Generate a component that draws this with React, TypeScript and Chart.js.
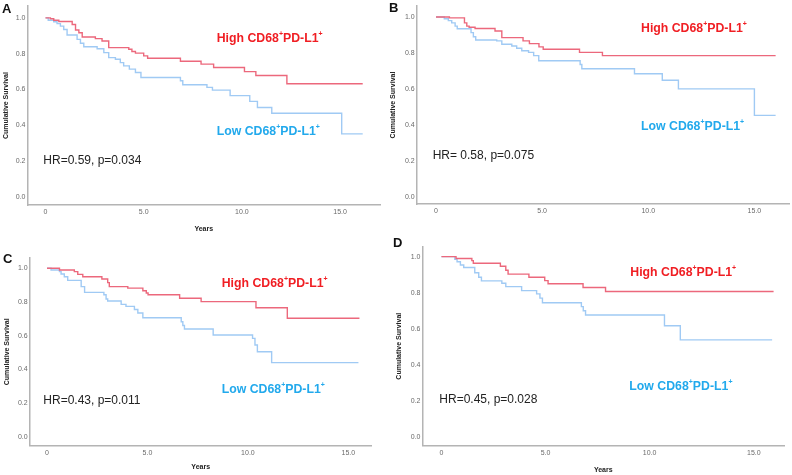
import React, { useEffect, useRef } from "react";
import { Chart, registerables } from "chart.js";
Chart.register(...registerables);

const FONT = '"Liberation Sans", Arial, Helvetica, sans-serif';

// ---- tick labels / texts ----
const xTickValues = [0, 5, 10, 15];
const xTickLabels = ["0", "5.0", "10.0", "15.0"];
const yTickValues = [0, 0.2, 0.4, 0.6, 0.8, 1.0];
const yTickLabels = ["0.0", "0.2", "0.4", "0.6", "0.8", "1.0"];
const xAxisTitle = "Years";
const yAxisTitle = "Cumulative Survival";
const highLabelParts = ["High CD68", "PD-L1"];
const lowLabelParts = ["Low CD68", "PD-L1"];
const supMark = "+";
const panelLetters = ["A", "B", "C", "D"];
const hrLabels = ["HR=0.59, p=0.034", "HR= 0.58, p=0.075", "HR=0.43, p=0.011", "HR=0.45, p=0.028"];

// ---- data (years, cumulative survival) ----
const aHighYears = [0, 0.25, 0.42, 0.68, 1.36, 1.53, 1.7, 1.87, 2.54, 2.88, 3.22, 4.24, 4.4, 4.58, 5.0, 5.2, 6.87, 7.92, 8.56, 10.13, 10.71, 12.29, 16.15];
const aHighSurv = [1.0, 0.995, 0.987, 0.98, 0.963, 0.932, 0.917, 0.893, 0.884, 0.871, 0.834, 0.825, 0.812, 0.803, 0.788, 0.775, 0.758, 0.742, 0.723, 0.7, 0.678, 0.632, 0.632];
const aLowYears = [0, 0.14, 0.42, 0.59, 0.76, 0.93, 1.1, 1.61, 1.78, 1.95, 2.63, 2.97, 3.22, 3.56, 3.81, 3.98, 4.27, 4.58, 4.86, 6.87, 6.99, 8.22, 8.5, 9.4, 10.4, 10.79, 11.52, 15.08, 16.15];
const aLowSurv = [1.0, 0.987, 0.978, 0.968, 0.954, 0.935, 0.904, 0.88, 0.858, 0.839, 0.828, 0.806, 0.778, 0.769, 0.75, 0.732, 0.714, 0.695, 0.667, 0.649, 0.627, 0.612, 0.597, 0.566, 0.534, 0.5, 0.468, 0.353, 0.353];

const bHighYears = [0, 0.63, 1.34, 1.45, 1.56, 1.84, 2.78, 3.1, 4.1, 4.4, 4.85, 5.05, 6.76, 7.84, 16.0];
const bHighSurv = [1.0, 0.995, 0.967, 0.949, 0.943, 0.936, 0.922, 0.885, 0.867, 0.852, 0.834, 0.821, 0.803, 0.785, 0.785];
const bLowYears = [0, 0.39, 0.58, 0.74, 0.9, 1.0, 1.65, 1.76, 1.87, 2.86, 3.1, 3.57, 3.8, 4.04, 4.36, 4.6, 4.84, 6.79, 6.87, 9.35, 10.66, 11.42, 15.0, 16.0];
const bLowSurv = [1.0, 0.99, 0.98, 0.967, 0.949, 0.935, 0.913, 0.89, 0.872, 0.867, 0.848, 0.839, 0.826, 0.812, 0.803, 0.785, 0.757, 0.736, 0.712, 0.684, 0.648, 0.6, 0.453, 0.453];

const cHighYears = [0, 0.62, 1.36, 1.53, 1.78, 2.73, 3.02, 3.1, 4.02, 4.77, 4.94, 5.03, 6.6, 7.67, 10.4, 11.96, 15.55];
const cHighSurv = [1.0, 0.99, 0.98, 0.964, 0.95, 0.936, 0.915, 0.891, 0.882, 0.867, 0.853, 0.843, 0.822, 0.802, 0.766, 0.703, 0.703];
const cLowYears = [0, 0.2, 0.62, 0.7, 0.86, 1.03, 1.7, 1.87, 2.83, 2.94, 3.02, 3.69, 3.93, 4.35, 4.52, 4.77, 6.68, 6.76, 6.84, 8.27, 10.23, 10.35, 10.47, 11.18, 15.5];
const cLowSurv = [1.0, 0.99, 0.98, 0.966, 0.95, 0.928, 0.891, 0.857, 0.843, 0.818, 0.806, 0.786, 0.774, 0.755, 0.735, 0.706, 0.683, 0.66, 0.64, 0.604, 0.584, 0.545, 0.505, 0.44, 0.44];

const dHighYears = [0, 0.7, 1.46, 1.53, 2.83, 3.09, 3.2, 4.2, 4.96, 5.12, 6.8, 7.88, 15.95];
const dHighSurv = [1.0, 0.99, 0.978, 0.963, 0.947, 0.925, 0.903, 0.886, 0.867, 0.85, 0.829, 0.807, 0.807];
const dLowYears = [0, 0.64, 0.75, 0.91, 1.07, 1.6, 1.79, 1.92, 2.9, 3.09, 3.85, 4.57, 4.73, 4.85, 6.72, 6.81, 6.92, 10.71, 11.47, 15.88];
const dLowSurv = [1.0, 0.985, 0.972, 0.954, 0.94, 0.911, 0.886, 0.866, 0.853, 0.834, 0.812, 0.794, 0.77, 0.745, 0.723, 0.7, 0.677, 0.617, 0.539, 0.539];

// ---- styles ----
const RED_LINE = "rgb(236,104,124)";
const BLUE_LINE = "rgb(160,202,244)";
const RED_TEXT = "#f01e23";
const BLUE_TEXT = "#22a9ec";
const AXIS_COLOR = "#b4b4b4";

type Layout = {
  left: number; top: number; w: number; h: number;
  yAxisW: number; xAxisH: number; padTop: number; padRight: number;
  xMin: number; xMax: number; yMin: number; yMax: number;
  yTitlePad: number; xTitlePad: number; showXTitle: boolean;
};

const layouts: Layout[] = [
  { left: 0, top: 0, w: 386, h: 238, yAxisW: 27.5, xAxisH: 33, padTop: 5, padRight: 6, xMin: -0.915, xMax: 17.03, yMin: -0.044, yMax: 1.065, yTitlePad: 2, xTitlePad: 4.5, showXTitle: true },
  { left: 386, top: 0, w: 406, h: 238, yAxisW: 30.7, xAxisH: 34, padTop: 3, padRight: 3, xMin: -0.91, xMax: 16.63, yMin: -0.04, yMax: 1.06, yTitlePad: 3.3, xTitlePad: 4, showXTitle: false },
  { left: 0, top: 240, w: 386, h: 235, yAxisW: 29.7, xAxisH: 29.3, padTop: 18, padRight: 14.3, xMin: -0.862, xMax: 16.16, yMin: -0.053, yMax: 1.061, yTitlePad: 3.1, xTitlePad: 4, showXTitle: true },
  { left: 390, top: 240, w: 402, h: 235, yAxisW: 32.5, xAxisH: 29.3, padTop: 6.7, padRight: 8, xMin: -0.91, xMax: 16.45, yMin: -0.047, yMax: 1.055, yTitlePad: 5, xTitlePad: 0.8, showXTitle: true },
];

type PanelData = { hx: number[]; hy: number[]; lx: number[]; ly: number[] };
const panelData: PanelData[] = [
  { hx: aHighYears, hy: aHighSurv, lx: aLowYears, ly: aLowSurv },
  { hx: bHighYears, hy: bHighSurv, lx: bLowYears, ly: bLowSurv },
  { hx: cHighYears, hy: cHighSurv, lx: cLowYears, ly: cLowSurv },
  { hx: dHighYears, hy: dHighSurv, lx: dLowYears, ly: dLowSurv },
];

// text positions: [left, baseline]
const letterPos = [[2, 12.7], [389, 12], [3, 263.3], [393, 247]];
const hrPos = [[43.3, 164], [432.7, 159.3], [43.3, 404.3], [439.3, 402.7]];
const highPos = [[216.7, 42.7], [641, 32.7], [221.7, 287.7], [630.3, 276.7]];
const lowPos = [[216.7, 135], [641, 130], [221.7, 393.3], [629.3, 390]];

function KMPanel({ layout, data }: { layout: Layout; data: PanelData }) {
  const ref = useRef<HTMLCanvasElement>(null);
  useEffect(() => {
    const L = layout;
    const tickFont = { size: 7, family: FONT };
    const titleFont = { size: 7, family: FONT, weight: "bold" as const };
    const chart = new Chart(ref.current!, {
      type: "line",
      data: {
        datasets: [
          {
            data: data.hx.map((x, i) => ({ x, y: data.hy[i] })),
            borderColor: RED_LINE,
            borderWidth: 1.4,
            stepped: true,
            pointRadius: 0,
            fill: false,
          },
          {
            data: data.lx.map((x, i) => ({ x, y: data.ly[i] })),
            borderColor: BLUE_LINE,
            borderWidth: 1.4,
            stepped: true,
            pointRadius: 0,
            fill: false,
          },
        ],
      },
      options: {
        animation: false,
        responsive: false,
        maintainAspectRatio: false,
        layout: { padding: { top: L.padTop, right: L.padRight, left: 0, bottom: 0 } },
        plugins: { legend: { display: false }, tooltip: { enabled: false } },
        elements: { point: { radius: 0 } },
        scales: {
          x: {
            type: "linear",
            min: L.xMin,
            max: L.xMax,
            grid: { display: false, drawTicks: false },
            border: { display: true, color: AXIS_COLOR, width: 1.5 },
            afterBuildTicks: (s: any) => {
              s.ticks = xTickValues.map((v) => ({ value: v }));
            },
            afterFit: (s: any) => {
              s.height = L.xAxisH;
            },
            ticks: {
              padding: 3,
              font: tickFont,
              color: "#6a6a6a",
              autoSkip: false,
              maxRotation: 0,
              callback: (v: any) => xTickLabels[xTickValues.indexOf(Number(v))] ?? "",
            },
            title: {
              display: L.showXTitle,
              text: xAxisTitle,
              font: titleFont,
              color: "#222",
              padding: { top: 0, bottom: L.xTitlePad },
            },
          },
          y: {
            type: "linear",
            min: L.yMin,
            max: L.yMax,
            grid: { display: false, drawTicks: false },
            border: { display: true, color: AXIS_COLOR, width: 1.5 },
            afterBuildTicks: (s: any) => {
              s.ticks = yTickValues.map((v) => ({ value: v }));
            },
            afterFit: (s: any) => {
              s.width = L.yAxisW;
            },
            ticks: {
              padding: 2,
              font: tickFont,
              color: "#6a6a6a",
              autoSkip: false,
              callback: (v: any) => {
                const i = yTickValues.findIndex((t) => Math.abs(t - Number(v)) < 1e-6);
                return i >= 0 ? yTickLabels[i] : "";
              },
            },
            title: {
              display: true,
              text: yAxisTitle,
              font: titleFont,
              color: "#222",
              padding: { top: L.yTitlePad, bottom: 0 },
            },
          },
        },
      },
    });
    return () => chart.destroy();
  }, []);
  return (
    <canvas
      ref={ref}
      width={layout.w}
      height={layout.h}
      style={{ position: "absolute", left: layout.left, top: layout.top, width: layout.w, height: layout.h, display: "block" }}
    />
  );
}

function TextAt({ x, base, size, bold, color, children }: any) {
  return (
    <div
      style={{
        position: "absolute",
        left: x,
        top: base - 0.8465 * size,
        fontSize: size,
        lineHeight: 1,
        fontWeight: bold ? "bold" : "normal",
        color,
        whiteSpace: "nowrap",
        fontFamily: FONT,
      }}
    >
      {children}
    </div>
  );
}

function Sup() {
  return (
    <span style={{ fontSize: 7, position: "relative", top: -6, lineHeight: 0 }}>{supMark}</span>
  );
}

function GroupLabel({ parts, x, base, color }: any) {
  return (
    <TextAt x={x} base={base} size={12.3} bold color={color}>
      {parts[0]}
      <Sup />
      {parts[1]}
      <Sup />
    </TextAt>
  );
}

export default function App() {
  return (
    <div
      style={{
        position: "fixed",
        left: 0,
        top: 0,
        width: 792,
        height: 475,
        background: "#fff",
        overflow: "hidden",
      }}
    >
      {layouts.map((l, i) => (
        <KMPanel key={"p" + i} layout={l} data={panelData[i]} />
      ))}
      {panelLetters.map((t, i) => (
        <TextAt key={"l" + i} x={letterPos[i][0]} base={letterPos[i][1]} size={13} bold color="#111">
          {t}
        </TextAt>
      ))}
      {hrLabels.map((t, i) => (
        <TextAt key={"h" + i} x={hrPos[i][0]} base={hrPos[i][1]} size={12} color="#222">
          {t}
        </TextAt>
      ))}
      {highPos.map((p, i) => (
        <GroupLabel key={"g" + i} parts={highLabelParts} x={p[0]} base={p[1]} color={RED_TEXT} />
      ))}
      {lowPos.map((p, i) => (
        <GroupLabel key={"w" + i} parts={lowLabelParts} x={p[0]} base={p[1]} color={BLUE_TEXT} />
      ))}
    </div>
  );
}
